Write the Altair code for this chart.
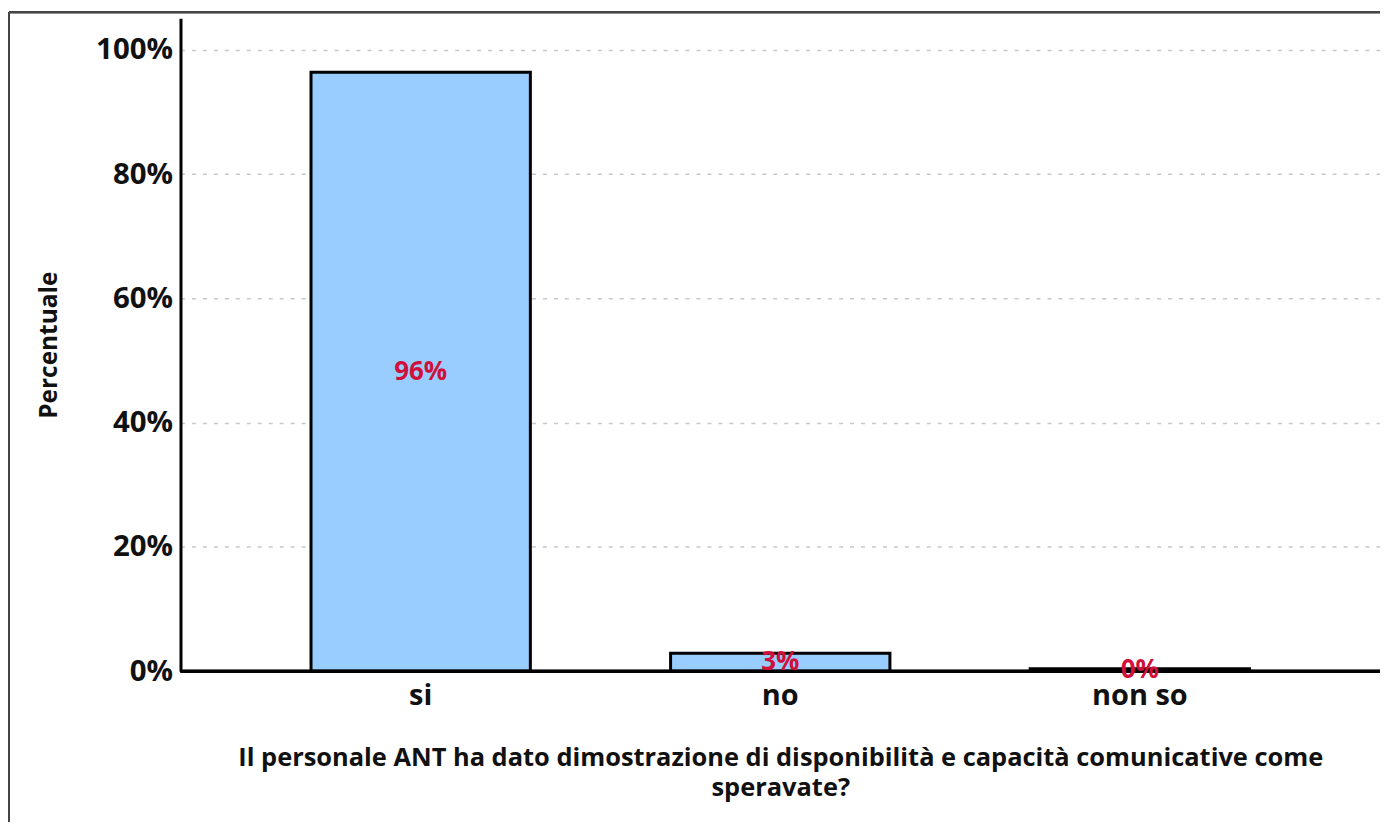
import altair as alt
import pandas as pd

categories = ["si", "no", "non so"]
values = [96.4, 2.9, 0.4]
labels = ["96%", "3%", "0%"]

df = pd.DataFrame({"cat": categories, "val": values, "lab": labels})
df["mid"] = df["val"] / 2

FONT = "Open Sans"

x = alt.X("cat:N", sort=categories,
          scale=alt.Scale(paddingInner=0.39, paddingOuter=0.363),
          axis=alt.Axis(title=["Il personale ANT ha dato dimostrazione di disponibilità e capacità comunicative come", "speravate?"],
                        labelAngle=0, labelFontSize=29, labelFontWeight="bold", labelColor="#111",
                        labelPadding=10, ticks=False, domain=False,
                        titleFontSize=25.5, titleFontWeight="bold", titleColor="#111",
                        titlePadding=36, titleLineHeight=30))

y_scale = alt.Scale(domain=[0, 105.1], nice=False)

bars = alt.Chart(df).mark_bar(color="#99CCFF", stroke="black", strokeWidth=3).encode(
    x=x,
    y=alt.Y("val:Q", scale=y_scale,
            axis=alt.Axis(values=[0, 20, 40, 60, 80, 100], labelExpr="datum.value + '%'",
                          title="Percentuale", titleFontSize=24.5, titleFontWeight="bold", titleColor="#111",
                          titlePadding=34,
                          labelFontSize=29.5, labelFontWeight="bold", labelColor="#111", labelPadding=8,
                          ticks=False, domain=True, domainColor="black", domainWidth=3,
                          grid=True, gridColor="#c8c8c8", gridDash=[4, 7], gridWidth=1.5)),
)

text = alt.Chart(df).mark_text(color="#D0103A", fontSize=26, fontWeight="bold", font=FONT,
                               baseline="middle").encode(
    x=alt.X("cat:N", sort=categories),
    y=alt.Y("mid:Q", scale=y_scale),
    text="lab:N",
)

base_rule = alt.Chart(df).mark_rule(color="black", strokeWidth=3).encode(
    y=alt.value(655), x=alt.value(0), x2=alt.value(1203)
)

frame_left = alt.Chart(df).mark_rule(color="#444", strokeWidth=2, clip=False).encode(
    x=alt.value(-172), y=alt.value(-6), y2=alt.value(820)
)
frame_top = alt.Chart(df).mark_rule(color="#444", strokeWidth=2, clip=False).encode(
    y=alt.value(-6), x=alt.value(-172), x2=alt.value(1210)
)

chart = alt.layer(bars, base_rule, text, frame_left, frame_top).properties(
    width=1203, height=655,
    autosize=alt.AutoSizeParams(type="none"),
    padding={"left": 173, "top": 9, "right": 0, "bottom": 150},
).configure(font=FONT).configure_view(stroke=None)

chart.save("out.html", embed_options={"renderer": "svg", "actions": False})
